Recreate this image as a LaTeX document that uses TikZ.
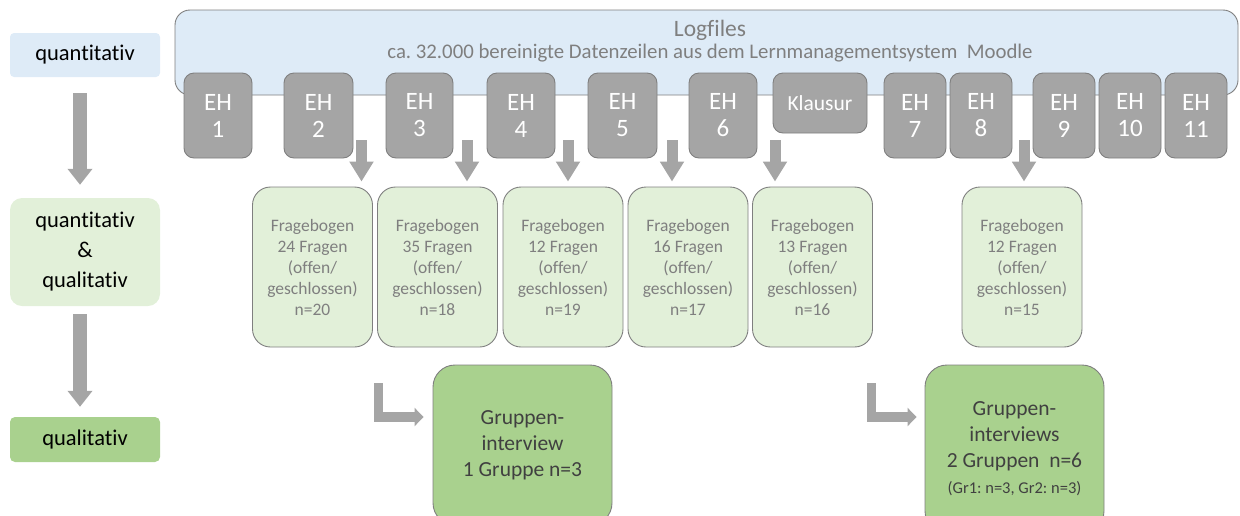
\documentclass[tikz,border=0pt]{standalone}
\usepackage{fontspec}
\setmainfont{Carlito}[Ligatures={NoCommon}]
\frenchspacing
\usetikzlibrary{arrows.meta}
\definecolor{lblue}{HTML}{DEEBF7}
\definecolor{lgreen}{HTML}{E2F0D9}
\definecolor{mgreen}{HTML}{A9D18E}
\definecolor{ehgray}{HTML}{A5A5A5}
\definecolor{bgray}{HTML}{7F7F7F}
\definecolor{tgray}{HTML}{7F7F7F}
\definecolor{dgray}{HTML}{404040}
\tikzset{
  fs/.style 2 args={font=\fontsize{#1}{#2}\selectfont},
  levelbox/.style={fill=#1, draw=none, minimum width=150pt, inner sep=0pt, align=center, text=black, fs={22.5}{30}},
  logbox/.style={fill=lblue, draw=bgray, line width=0.9pt, rounded corners=15pt, minimum width=1063pt, minimum height=85pt, inner sep=0pt},
  ehbox/.style={fill=ehgray, draw=bgray, line width=0.9pt, rounded corners=10pt, minimum height=85pt, inner sep=0pt, align=center, text=white, fs={25}{27}},
  fbbox/.style={fill=lgreen, draw=bgray, line width=0.9pt, rounded corners=18pt, minimum width=120pt, minimum height=160pt, inner sep=0pt, align=center, text=tgray, fs={17.5}{21}},
  gibox/.style={fill=mgreen, draw=bgray, line width=0.9pt, rounded corners=22pt, minimum width=179pt, inner sep=0pt, align=center, text=dgray, fs={21.5}{26}},
  downarrow/.style={draw=ehgray, line width=11pt, -{Triangle[width=23pt,length=20pt]}},
  levelarrow/.style={draw=ehgray, line width=14pt, -{Triangle[width=24pt,length=16pt]}},
  bentarrow/.style={draw=ehgray, line width=9.5pt, line join=miter, -{Triangle[width=18pt,length=9pt]}},
}
\begin{document}
\begin{tikzpicture}[x=1pt,y=-1pt]
\useasboundingbox (0,0) rectangle (1240,515);
\clip (0,0) rectangle (1240,515);
% level labels
\node[levelbox=lblue, minimum height=44pt, rounded corners=4pt] (q1) at (85,55) {quantitativ};
\node[levelbox=lgreen, minimum height=108pt, rounded corners=12pt] (q2) at (85,252) {quantitativ\\\&\\qualitativ};
\node[levelbox=mgreen, minimum height=45pt, rounded corners=5pt] (q3) at (85,439.5) {qualitativ};
\coordinate (la1) at (80,93);
\coordinate (la2) at (80,314);
\draw[levelarrow, shorten >=13pt] (la1) -- (la1 |- q2.north);
\draw[levelarrow, shorten >=10pt] (la2) -- (la2 |- q3.north);
% logfiles
\node[logbox] (log) at (706.5,52.5) {};
\node[text=tgray, align=center, fs={20.8}{22}] (logtext) at (710,41) {{\fontsize{23.5}{22}\selectfont Logfiles}\\ca. 32.000 bereinigte Datenzeilen aus dem Lernmanagementsystem\ \ Moodle};
% EH boxes
\node[ehbox, minimum width=68pt] (eh1) at (218,115.5) {EH\\1};
\node[ehbox, minimum width=69pt] (eh2) at (318.5,115.5) {EH\\2};
\node[ehbox, minimum width=67pt] (eh3) at (419.5,115.5) {EH\\3};
\node[ehbox, minimum width=68pt] (eh4) at (521,115.5) {EH\\4};
\node[ehbox, minimum width=69pt] (eh5) at (622.5,115.5) {EH\\5};
\node[ehbox, minimum width=68pt] (eh6) at (723,115.5) {EH\\6};
\node[ehbox, minimum width=94pt, minimum height=60pt, fs={21.5}{22}] (kl) at (820,103) {Klausur};
\node[ehbox, minimum width=62pt] (eh7) at (915,115.5) {EH\\7};
\node[ehbox, minimum width=62pt] (eh8) at (981,115.5) {EH\\8};
\node[ehbox, minimum width=62pt] (eh9) at (1064,115.5) {EH\\9};
\node[ehbox, minimum width=62pt] (eh10) at (1130,115.5) {EH\\10};
\node[ehbox, minimum width=62pt] (eh11) at (1196,115.5) {EH\\11};
% Fragebogen
\node[fbbox] (fb1) at (312.5,267) {Fragebogen\\24 Fragen\\(offen/\\geschlossen)\\n=20};
\node[fbbox] (fb2) at (437.5,267) {Fragebogen\\35 Fragen\\(offen/\\geschlossen)\\n=18};
\node[fbbox] (fb3) at (563,267) {Fragebogen\\12 Fragen\\(offen/\\geschlossen)\\n=19};
\node[fbbox] (fb4) at (688,267) {Fragebogen\\16 Fragen\\(offen/\\geschlossen)\\n=17};
\node[fbbox] (fb5) at (812.5,267) {Fragebogen\\13 Fragen\\(offen/\\geschlossen)\\n=16};
\node[fbbox] (fb6) at (1022,267) {Fragebogen\\12 Fragen\\(offen/\\geschlossen)\\n=15};
% arrows EH -> Fragebogen
\coordinate (a1) at (361.5,140);
\coordinate (a2) at (467,140);
\coordinate (a3) at (568,140);
\coordinate (a4) at (672,140);
\coordinate (a5) at (775,140);
\coordinate (a6) at (1024,140);
\draw[downarrow, shorten >=5pt] (a1) -- (a1 |- fb1.north);
\draw[downarrow, shorten >=5pt] (a2) -- (a2 |- fb2.north);
\draw[downarrow, shorten >=5pt] (a3) -- (a3 |- fb3.north);
\draw[downarrow, shorten >=5pt] (a4) -- (a4 |- fb4.north);
\draw[downarrow, shorten >=5pt] (a5) -- (a5 |- fb5.north);
\draw[downarrow, shorten >=5pt] (a6) -- (a6 |- fb6.north);
% Gruppeninterviews
\node[gibox, minimum height=160pt] (gi1) at (522.5,445) {Gruppen-\\interview\\1 Gruppe n=3};
\node[gibox, minimum height=168pt] (gi2) at (1014.5,449) {Gruppen-\\interviews\\2 Gruppen\ \ n=6\\{\fontsize{16.5}{20}\selectfont (Gr1: n=3, Gr2: n=3)}};
\coordinate (b1) at (378.5,383);
\coordinate (b2) at (871.5,383);
\draw[bentarrow, shorten >=9pt] (b1) |- ([yshift=28pt]gi1.west);
\draw[bentarrow, shorten >=8pt] (b2) |- ([yshift=32pt]gi2.west);
\end{tikzpicture}
\end{document}
